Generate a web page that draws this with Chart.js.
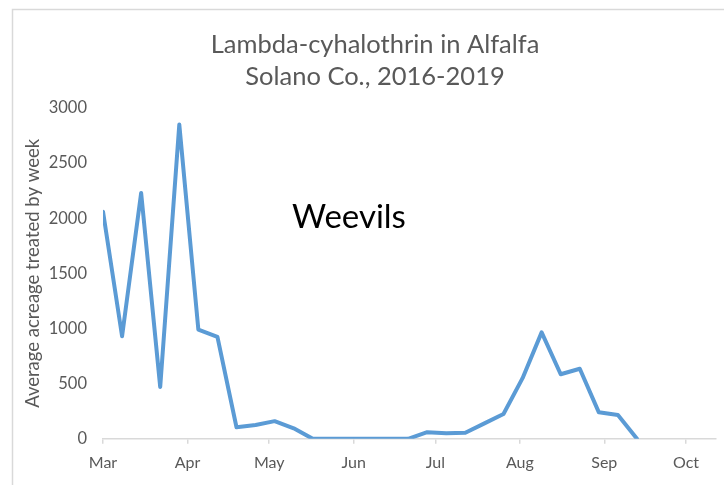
<!DOCTYPE html>
<html>
<head>
<meta charset="utf-8">
<script src="https://cdn.jsdelivr.net/npm/chart.js@4/dist/chart.umd.min.js"></script>
<style>
  html, body { margin: 0; padding: 0; background: #fff; overflow: hidden; }
  #wrap { position: relative; width: 724px; height: 485px; }
</style>
</head>
<body>
<div id="wrap"><canvas id="chart"></canvas></div>
<script>
// week starting dates (2019 calendar, first week = Mar 1)
var weeks = ['03-01','03-08','03-15','03-22','03-29','04-05','04-12','04-19','04-26',
             '05-03','05-10','05-17','05-24','05-31','06-07','06-14','06-21','06-28',
             '07-05','07-12','07-19','07-26','08-02','08-09','08-16','08-23','08-30',
             '09-06','09-13'];
var acreage = [2060, 930, 2230, 470, 2850, 990, 925, 105, 125,
               160, 95, 0, 0, 0, 0, 0, 0, 60,
               50, 55, 140, 225, 550, 965, 585, 635, 240,
               215, 0];
var monthLabels = ['Mar','Apr','May','Jun','Jul','Aug','Sep','Oct'];
var monthStarts = ['03-01','04-01','05-01','06-01','07-01','08-01','09-01','10-01'];
var yTicks = [0, 500, 1000, 1500, 2000, 2500, 3000];
var titleLines = ['Lambda-cyhalothrin in Alfalfa', 'Solano Co., 2016-2019'];

var grey = '#595959';
var fontFam = 'Lato, "Open Sans", sans-serif';

function dayOf(md) {
  var p = md.split('-');
  return (Date.UTC(2019, +p[0] - 1, +p[1]) - Date.UTC(2019, 2, 1)) / 86400000;
}
var monthDays = monthStarts.map(dayOf);

var points = weeks.map(function(w, i) {
  return { x: dayOf(w), y: acreage[i] };
});

// outer frame, title and the "Weevils" note
var frame = {
  id: 'frame',
  beforeDraw: function(chart) {
    var c = chart.ctx;
    c.save();
    c.fillStyle = '#fff';
    c.fillRect(0, 0, chart.width, chart.height);
    c.strokeStyle = '#d9d9d9';
    c.lineWidth = 1.5;
    c.beginPath();
    c.moveTo(12.5, chart.height + 5);
    c.lineTo(12.5, 9.5);
    c.lineTo(chart.width + 5, 9.5);
    c.stroke();
    c.restore();
  },
  afterDraw: function(chart) {
    var c = chart.ctx;
    c.save();
    c.textAlign = 'center';
    c.textBaseline = 'middle';
    c.fillStyle = grey;
    c.font = '25.5px ' + fontFam;
    c.fillText(titleLines[0], 375, 45);
    c.fillText(titleLines[1], 375, 77);
    c.fillStyle = '#000';
    c.font = '33px ' + fontFam;
    c.fillText('Weevils', 349, 217);
    c.restore();
  }
};

var ctx = document.getElementById('chart').getContext('2d');
var chart = new Chart(ctx, {
  type: 'line',
  data: {
    datasets: [{
      data: points,
      borderColor: '#5b9bd5',
      borderWidth: 4,
      borderJoinStyle: 'round',
      borderCapStyle: 'round',
      pointRadius: 0,
      tension: 0,
      fill: false
    }]
  },
  options: {
    responsive: true,
    maintainAspectRatio: false,
    animation: false,
    layout: { padding: { left: 22, right: 8, top: 108, bottom: 4 } },
    plugins: {
      legend: { display: false },
      tooltip: { enabled: false },
      title: { display: false }
    },
    scales: {
      x: {
        type: 'linear',
        min: 0,
        max: 225,
        afterBuildTicks: function(axis) {
          axis.ticks = monthDays.map(function(d) { return { value: d }; });
        },
        ticks: {
          color: grey,
          font: { family: fontFam, size: 16 },
          padding: 9,
          maxRotation: 0,
          autoSkip: false,
          callback: function(v) {
            var i = monthDays.indexOf(v);
            return i >= 0 ? monthLabels[i] : '';
          }
        },
        grid: { drawOnChartArea: false, drawTicks: true, tickLength: 5, color: '#d9d9d9', lineWidth: 1.5 },
        border: { display: true, color: '#d9d9d9', width: 1.5 }
      },
      y: {
        min: 0,
        max: 3000,
        afterBuildTicks: function(axis) {
          axis.ticks = yTicks.map(function(v) { return { value: v }; });
        },
        afterFit: function(axis) { axis.width = 81; },
        ticks: {
          color: grey,
          font: { family: fontFam, size: 16.5 },
          padding: 16,
          callback: function(v) { return String(v); }
        },
        grid: { display: false, drawTicks: false },
        border: { display: false },
        title: {
          display: true,
          text: 'Average acreage treated by week',
          color: grey,
          font: { family: fontFam, size: 18.5 },
          padding: { top: 0, bottom: 6 }
        }
      }
    }
  },
  plugins: [frame]
});
</script>
</body>
</html>
